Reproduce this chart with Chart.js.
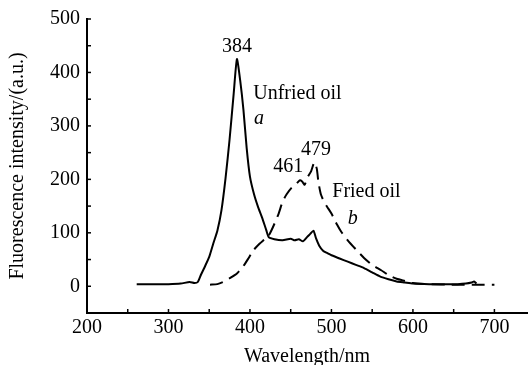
<!DOCTYPE html>
<html>
<head>
<meta charset="utf-8">
<script src="https://cdn.jsdelivr.net/npm/chart.js@4"></script>
<style>
  body { margin: 0; background: #fff; }
</style>
</head>
<body>
<canvas id="spectrumChart" width="528" height="365"></canvas>
<script>
// Wavelength (nm) and intensity (a.u.)
var unfriedX = [261, 280, 300, 315, 326, 332, 336, 340, 345, 350, 355, 360, 365, 370, 375, 380, 384, 388, 392, 396, 400, 405, 410, 415, 420, 423, 430, 440, 450, 455, 460, 465, 470, 474, 478, 481, 485, 490, 495, 500, 510, 520, 530, 540, 550, 560, 570, 580, 590, 600, 620, 640, 655, 665, 672, 675, 678];
var unfriedY = [4, 4, 4, 5, 8, 6, 8, 22, 38, 55, 80, 104, 142, 202, 275, 360, 425, 385, 330, 258, 205, 172, 148, 128, 105, 92, 88, 86, 89, 86, 88, 84, 92, 98, 104, 90, 76, 66, 62, 58, 52, 46, 40, 34, 26, 18, 13, 9, 7, 5, 4, 4, 4, 5, 7, 9, 5];

var friedX = [351, 360, 367, 375, 384, 392, 398, 404, 412, 418, 423, 428, 435, 440, 445, 451, 456, 461, 464, 467, 471, 475, 479, 482, 484, 487, 491, 495, 500, 507, 512, 520, 530, 540, 550, 561, 570, 580, 590, 600, 620, 650, 680, 700];
var friedY = [3, 4, 8, 15, 24, 38, 52, 67, 80, 88, 95, 110, 135, 158, 172, 184, 190, 198, 196, 190, 205, 215, 232, 220, 195, 172, 158, 148, 136, 115, 102, 86, 69, 53, 40, 30, 21, 14, 10, 6, 4, 3, 3, 3];

var xTicks = [200, 250, 300, 350, 400, 450, 500, 550, 600, 650, 700];
var yTicks = [-50, 0, 50, 100, 150, 200, 250, 300, 350, 400, 450, 500];

var xTitle = "Wavelength/nm";
var yTitle = "Fluorescence intensity/(a.u.)";

// peak labels and curve names
var notes = [
    { text: "384", x: 384, y: 448, align: "center" },
    { text: "Unfried oil", x: 404, y: 361, align: "left" },
    { text: "a", x: 405, y: 313, align: "left", italic: true },
    { text: "479", x: 481, y: 256, align: "center" },
    { text: "461", x: 447, y: 224, align: "center" },
    { text: "Fried oil", x: 501, y: 176, align: "left" },
    { text: "b", x: 520, y: 126, align: "left", italic: true }
];

var serif = "'Liberation Serif', 'Times New Roman', serif";

function toPoints(xs, ys) {
    var pts = [];
    for (var i = 0; i < xs.length; i++) {
        pts.push({ x: xs[i], y: ys[i] });
    }
    return pts;
}

function fixedTicks(list) {
    return function(scale) {
        scale.ticks = list.map(function(v) { return { value: v }; });
    };
}

// small inward tick marks + text notes
var extrasPlugin = {
    id: "extras",
    afterDraw: function(chart) {
        var c = chart.ctx;
        var xs = chart.scales.x, ys = chart.scales.y;
        var area = chart.chartArea;
        c.save();
        c.strokeStyle = "#000";
        c.lineWidth = 1.5;
        xTicks.forEach(function(v) {
            if (v === xs.min) return;
            var px = xs.getPixelForValue(v);
            c.beginPath();
            c.moveTo(px, area.bottom);
            c.lineTo(px, area.bottom - 4);
            c.stroke();
        });
        yTicks.forEach(function(v) {
            if (v === ys.min) return;
            var py = ys.getPixelForValue(v);
            c.beginPath();
            c.moveTo(area.left, py);
            c.lineTo(area.left + 4, py);
            c.stroke();
        });

        c.fillStyle = "#000";
        c.textBaseline = "middle";
        notes.forEach(function(n) {
            c.font = (n.italic ? "italic " : "") + "20px " + serif;
            c.textAlign = n.align;
            c.fillText(n.text, xs.getPixelForValue(n.x), ys.getPixelForValue(n.y));
        });
        c.restore();
    }
};

var ctx = document.getElementById("spectrumChart").getContext("2d");

var myChart = new Chart(ctx, {
    type: "line",
    data: {
        datasets: [{
            label: "Unfried oil",
            data: toPoints(unfriedX, unfriedY),
            borderColor: "#000",
            borderWidth: 2,
            pointRadius: 0,
            tension: 0.2,
            fill: false
        }, {
            label: "Fried oil",
            data: toPoints(friedX, friedY),
            borderColor: "#000",
            borderWidth: 2,
            borderDash: [13, 7],
            pointRadius: 0,
            tension: 0.2,
            fill: false
        }]
    },
    options: {
        responsive: false,
        animation: false,
        devicePixelRatio: 1,
        layout: { padding: { top: 16, right: 1, left: 0, bottom: 0 } },
        plugins: {
            legend: { display: false },
            tooltip: { enabled: false }
        },
        scales: {
            x: {
                type: "linear",
                min: 200,
                max: 740,
                afterBuildTicks: fixedTicks(xTicks),
                grid: { display: false, drawTicks: false },
                border: { display: true, color: "#000", width: 2 },
                ticks: {
                    autoSkip: false,
                    maxRotation: 0,
                    padding: 3,
                    color: "#000",
                    font: { family: serif, size: 20 },
                    callback: function(v) { return v % 100 === 0 ? String(v) : ""; }
                },
                title: {
                    display: true,
                    text: xTitle,
                    color: "#000",
                    padding: 0,
                    font: { family: serif, size: 20, lineHeight: 0.8 }
                },
                afterFit: function(scale) { scale.height = 52; }
            },
            y: {
                min: -50,
                max: 500,
                afterBuildTicks: fixedTicks(yTicks),
                grid: { display: false, drawTicks: false },
                border: { display: true, color: "#000", width: 2 },
                ticks: {
                    autoSkip: false,
                    padding: 7,
                    color: "#000",
                    font: { family: serif, size: 20 },
                    callback: function(v) { return (v % 100 === 0 && v >= 0) ? String(v) : ""; }
                },
                title: {
                    display: true,
                    text: yTitle,
                    color: "#000",
                    padding: { top: 6, bottom: 0 },
                    font: { family: serif, size: 20 }
                },
                afterFit: function(scale) { scale.width = 87; }
            }
        }
    },
    plugins: [extrasPlugin]
});
</script>
</body>
</html>
